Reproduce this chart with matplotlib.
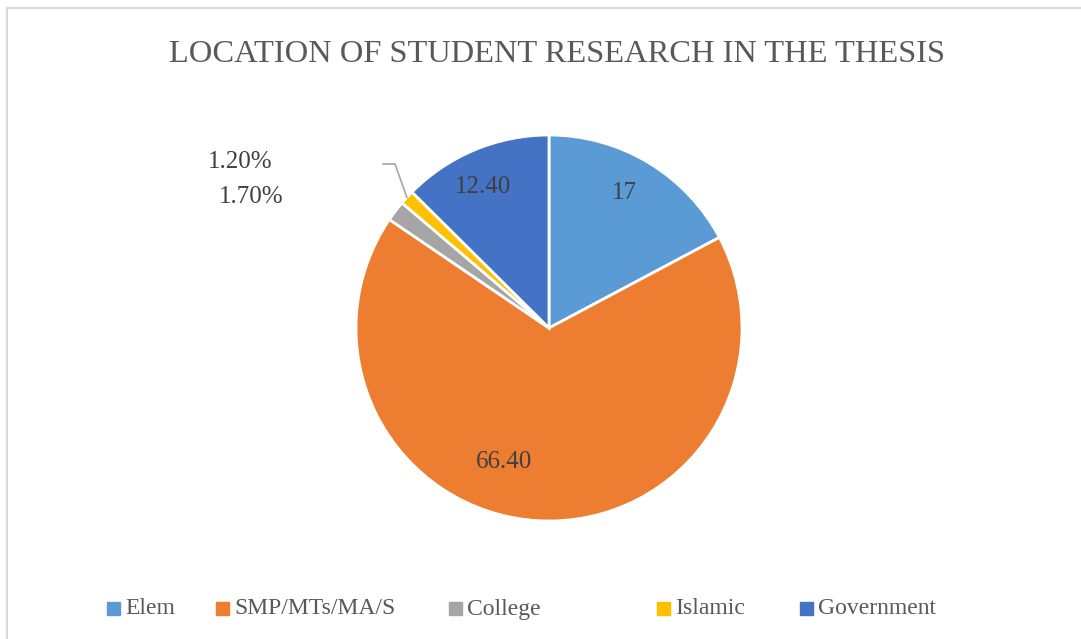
import matplotlib
matplotlib.use('Agg')
import matplotlib.pyplot as plt
from matplotlib.patches import Rectangle
import numpy as np

categories = ['Elem', 'SMP/MTs/MA/S', 'College', 'Islamic', 'Government']
values = [17, 66.4, 1.7, 1.2, 12.4]
label_texts = ['17', '66.40', '1.70%', '1.20%', '12.40']
colors = ['#5B9BD5', '#ED7D31', '#A5A5A5', '#FFC000', '#4472C4']

plt.rcParams['font.family'] = ['Liberation Serif', 'DejaVu Serif']

W, H = 1081, 639
fig = plt.figure(figsize=(W / 100, H / 100), dpi=100)

# pie centre (549, 328) px, radius 193 px
cx, cy, r = 549, 328, 193
ax = fig.add_axes([(cx - r) / W, (H - cy - r) / H, 2 * r / W, 2 * r / H])
wedges, _ = ax.pie(values, colors=colors, startangle=90, counterclock=False,
                   wedgeprops=dict(edgecolor='white', linewidth=2))
ax.set_xlim(-1, 1)
ax.set_ylim(-1, 1)
ax.set_aspect('equal')
ax.axis('off')

lab_col = '#404040'
lab_size = 18
# inside labels at wedge angle with small nudges
inside = {0: (0.80, 1.6), 1: (0.732, -15.5), 4: (0.807, 2.5)}
for i, (dist, nudge) in inside.items():
    w = wedges[i]
    ang = np.deg2rad((w.theta1 + w.theta2) / 2 + nudge)
    ax.text(dist * np.cos(ang), dist * np.sin(ang), label_texts[i],
            ha='center', va='center', fontsize=lab_size, color=lab_col)

# small slices, labels outside
w = wedges[3]
ang = np.deg2rad((w.theta1 + w.theta2) / 2)
p = (1.0 * np.cos(ang), 1.0 * np.sin(ang))
ax.plot([p[0], -0.798, -0.860], [p[1], 0.85, 0.85], color='#A5A5A5', lw=1.2,
        clip_on=False)
ax.text(-1.435, 0.86, label_texts[3], ha='right', va='center',
        fontsize=lab_size, color=lab_col)
ax.text(-1.378, 0.679, label_texts[2], ha='right', va='center',
        fontsize=lab_size, color=lab_col)

fig.text(557 / W, 1 - 55 / H, 'LOCATION OF STUDENT RESEARCH IN THE THESIS',
         ha='center', va='center', fontsize=23.4, color='#595959')

# legend
sq_x = [107, 216, 449, 657, 800]
for x, c, name in zip(sq_x, colors, categories):
    fig.patches.append(Rectangle((x / W, 1 - 615 / H), 13 / W, 13 / H,
                                 transform=fig.transFigure, color=c))
    fig.text((x + 18) / W, 1 - 609 / H, name, ha='left', va='center',
             fontsize=17, color='#595959')

# chart border
fig.add_artist(plt.Line2D([7.5 / W, 1], [1 - 7.5 / H] * 2, color='#D9D9D9',
                          lw=1.5, transform=fig.transFigure))
fig.add_artist(plt.Line2D([7.5 / W] * 2, [0, 1 - 7.5 / H], color='#D9D9D9',
                          lw=1.5, transform=fig.transFigure))

fig.savefig('out.png', dpi=100, facecolor='white')
